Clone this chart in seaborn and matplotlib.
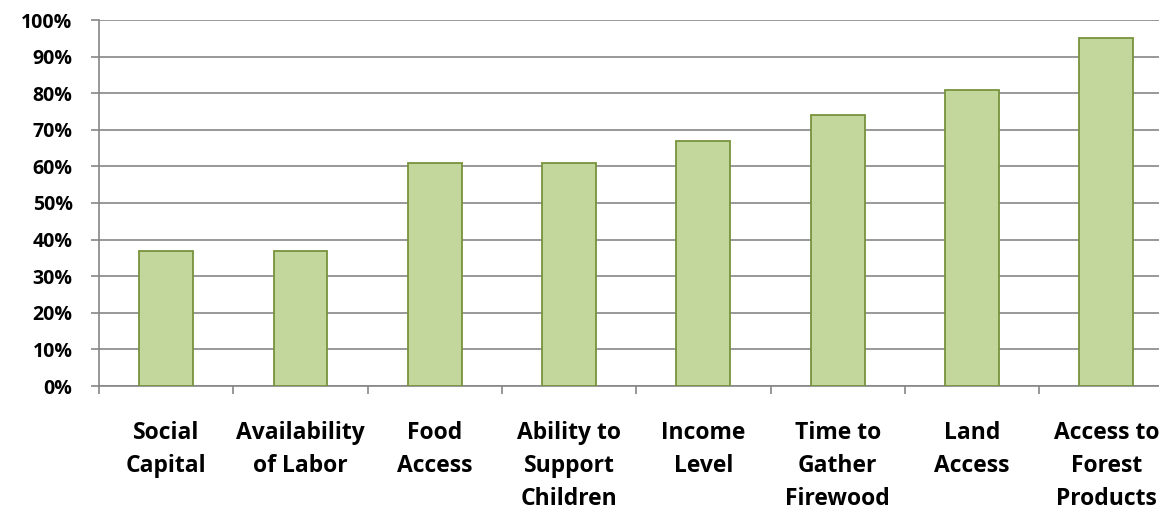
import matplotlib
matplotlib.use("Agg")
import matplotlib.pyplot as plt
import seaborn as sns
import pandas as pd
import numpy as np
from matplotlib.ticker import FuncFormatter, MultipleLocator, FixedLocator

categories = [
    "Social\nCapital",
    "Availability\nof Labor",
    "Food\nAccess",
    "Ability to\nSupport\nChildren",
    "Income\nLevel",
    "Time to\nGather\nFirewood",
    "Land\nAccess",
    "Access to\nForest\nProducts",
]
percent = [37, 37, 61, 61, 67, 74, 81, 95]

df = pd.DataFrame({"category": categories, "percent": percent})

sns.set_style("white")
plt.rcParams["font.family"] = ["Open Sans", "DejaVu Sans"]

W, H = 1159, 509
fig = plt.figure(figsize=(W / 100, H / 100), dpi=100)
left, right = 99, 99 + 8 * 134.3
top, bottom = 20, 386
ax = fig.add_axes([left / W, (H - bottom) / H, (right - left) / W, (bottom - top) / H])

grid_c = "#868686"
sns.barplot(data=df, x="category", y="percent", ax=ax, width=0.4,
            color="#C3D69B", edgecolor="#77933C", linewidth=1.3,
            saturation=1, zorder=3)

ax.set_xlim(-0.5, len(categories) - 0.5)
ax.set_ylim(0, 100)
ax.yaxis.set_major_locator(MultipleLocator(10))
ax.yaxis.set_major_formatter(FuncFormatter(lambda v, _: f"{v:.0f}%"))
ax.grid(axis="y", color=grid_c, linewidth=1.2, zorder=0)
ax.set_axisbelow(True)

ax.set_xlabel("")
ax.set_ylabel("")
for s in ["top", "right"]:
    ax.spines[s].set_visible(False)
for s in ["left", "bottom"]:
    ax.spines[s].set_color(grid_c)
    ax.spines[s].set_linewidth(1.2)

ax.xaxis.set_minor_locator(FixedLocator(np.arange(-0.5, len(categories), 1.0)))
ax.tick_params(axis="x", which="major", length=0, pad=25, labelsize=16.5, labelcolor="black")
ax.tick_params(axis="x", which="minor", length=6, width=1.2, color=grid_c, direction="out", bottom=True)
ax.tick_params(axis="y", which="major", length=6, width=1.2, color=grid_c, direction="out",
               left=True, pad=13, labelsize=14, labelcolor="black")
for lab in ax.get_xticklabels():
    lab.set_fontweight("bold")
    lab.set_linespacing(1.5)
    lab.set_verticalalignment("top")
for lab in ax.get_yticklabels():
    lab.set_fontweight("bold")

fig.savefig("out.png", dpi=100)
